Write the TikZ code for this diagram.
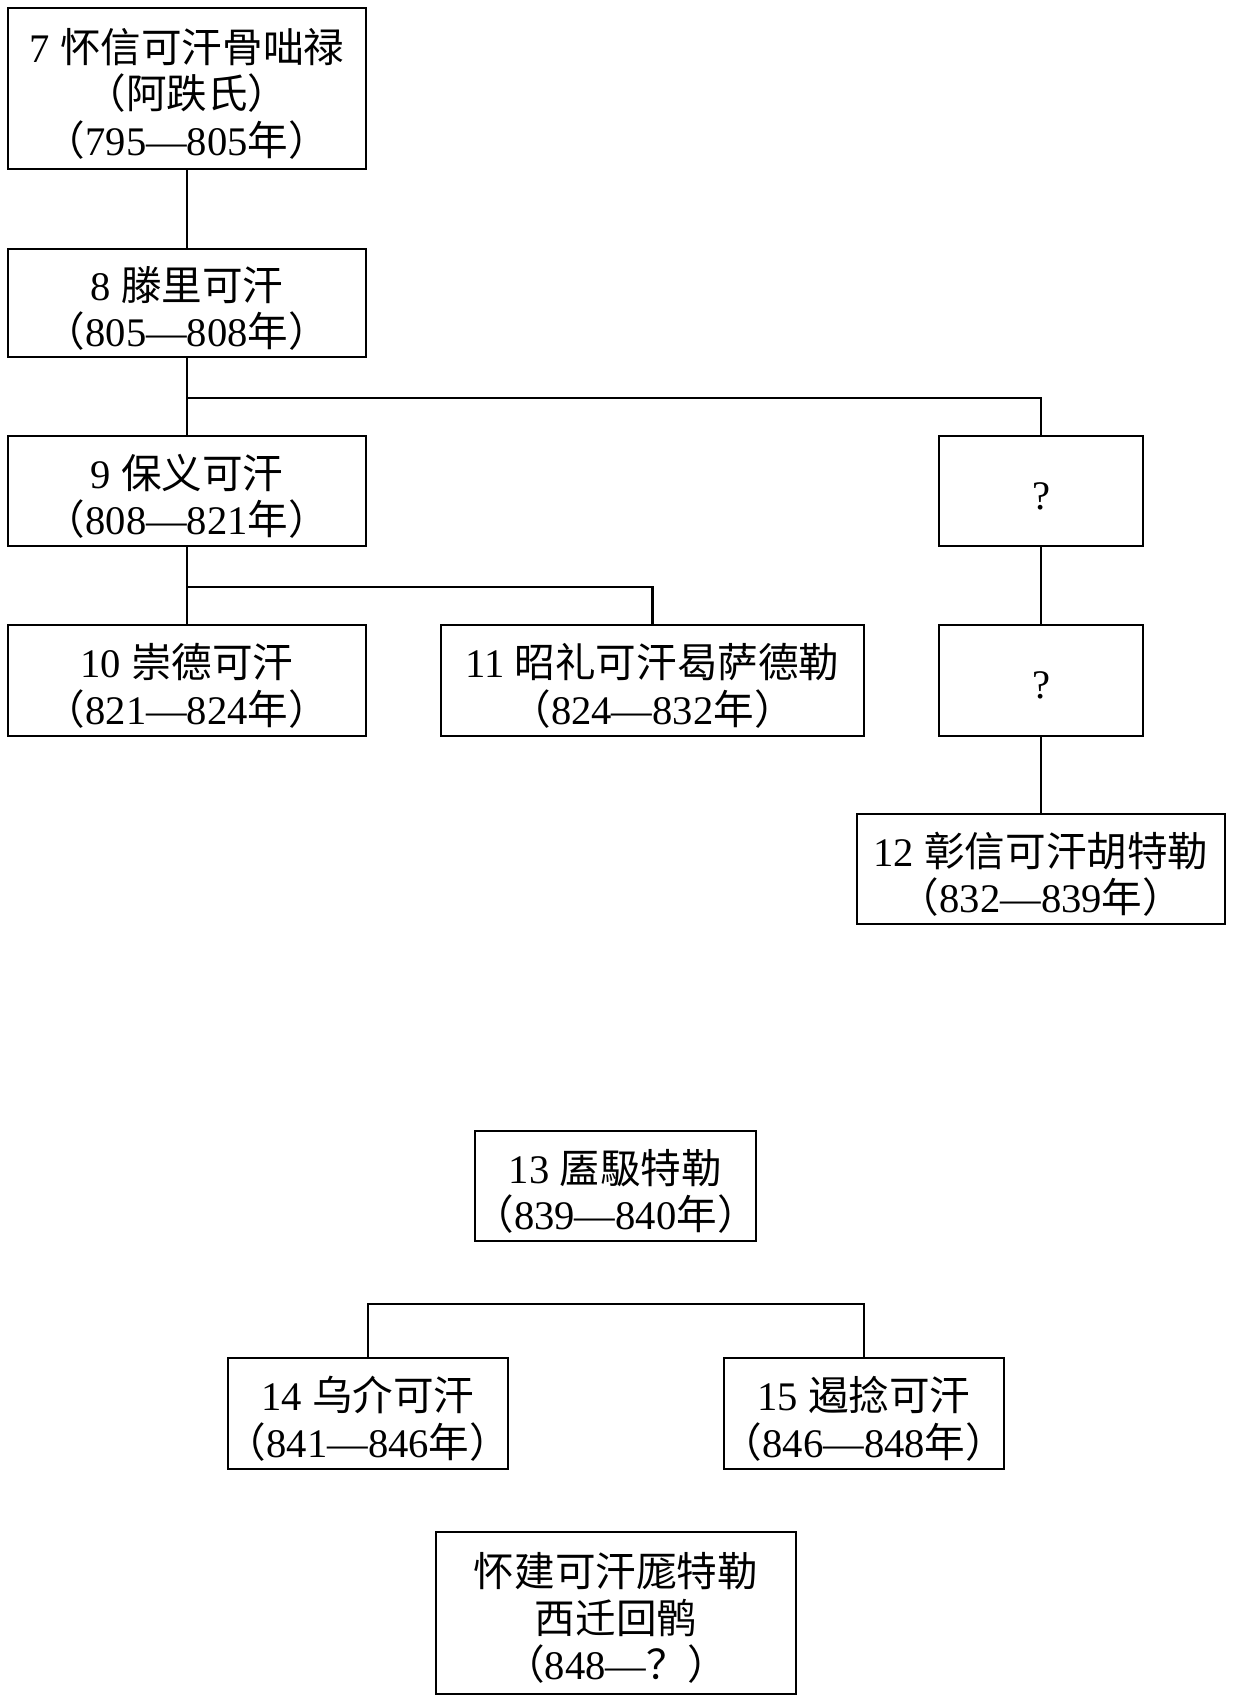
\documentclass[tikz,border=0pt]{standalone}
\usepackage{fontspec}
\setmainfont{Liberation Serif}
\newfontfamily\cjk{Noto Sans CJK SC}
\newcommand{\C}[1]{{\cjk #1}}
\begin{document}
\begin{tikzpicture}[x=0.5pt,y=-0.5pt,
  bx/.style={draw, line width=1.3pt, inner sep=0pt, outer sep=0pt},
  tx/.style={align=center, inner sep=0pt, yshift=-2.6pt,
    font=\fontsize{20.3}{23.2}\selectfont},
  ln/.style={line width=1.3pt}]
\useasboundingbox (0,0) rectangle (1232,1702);
\fill[white] (0,0) rectangle (1232,1702);
\node[bx, minimum width=179pt, minimum height=80.5pt,
  label={[tx]center:7 \C{怀信可汗骨咄禄}\\\C{（阿跌氏）}\\\C{（}795—805\C{年）}}] (n7) at (187,88.5) {};
\node[bx, minimum width=179pt, minimum height=54pt,
  label={[tx]center:8 \C{滕里可汗}\\\C{（}805—808\C{年）}}] (n8) at (187,303) {};
\node[bx, minimum width=179pt, minimum height=55pt,
  label={[tx]center:9 \C{保义可汗}\\\C{（}808—821\C{年）}}] (n9) at (187,491) {};
\node[bx, minimum width=102pt, minimum height=55pt,
  label={[tx]center:?}] (q1) at (1041,491) {};
\node[bx, minimum width=179pt, minimum height=55.5pt,
  label={[tx]center:10 \C{崇德可汗}\\\C{（}821—824\C{年）}}] (n10) at (187,680.5) {};
\node[bx, minimum width=211.5pt, minimum height=55.5pt,
  label={[tx]center:11 \C{昭礼可汗曷萨德勒}\\\C{（}824—832\C{年）}}] (n11) at (652.5,680.5) {};
\node[bx, minimum width=102pt, minimum height=55.5pt,
  label={[tx]center:?}] (q2) at (1041,680.5) {};
\node[bx, minimum width=184pt, minimum height=55pt,
  label={[tx]center:12 \C{彰信可汗胡特勒}\\\C{（}832—839\C{年）}}] (n12) at (1041,869) {};
\node[bx, minimum width=140.5pt, minimum height=55pt,
  label={[tx]center:13 \C{㕎馺特勒}\\\C{（}839—840\C{年）}}] (n13) at (615.5,1186) {};
\node[bx, minimum width=140pt, minimum height=55.5pt,
  label={[tx]center:14 \C{乌介可汗}\\\C{（}841—846\C{年）}}] (n14) at (368,1413.5) {};
\node[bx, minimum width=140pt, minimum height=55.5pt,
  label={[tx]center:15 \C{遏捻可汗}\\\C{（}846—848\C{年）}}] (n15) at (864,1413.5) {};
\node[bx, minimum width=180pt, minimum height=81pt,
  label={[tx]center:\C{怀建可汗厖特勒}\\\C{西迁回鹘}\\\C{（}848—\C{？）}}] (n16) at (616,1613) {};
\coordinate (b8) at (187,398);
\coordinate (b9) at (187,587);
\coordinate (b14) at (616,1304);
\draw[ln] (n7.south) -- (n8.north);
\draw[ln] (n8.south) -- (n9.north);
\draw[ln] (b8) -| (q1.north);
\draw[ln] (n9.south) -- (n10.north);
\draw[ln] (b9) -| (n11.north);
\draw[ln] (q1.south) -- (q2.north);
\draw[ln] (q2.south) -- (n12.north);
\draw[ln] (n14.north) |- (b14) -| (n15.north);
\end{tikzpicture}
\end{document}
